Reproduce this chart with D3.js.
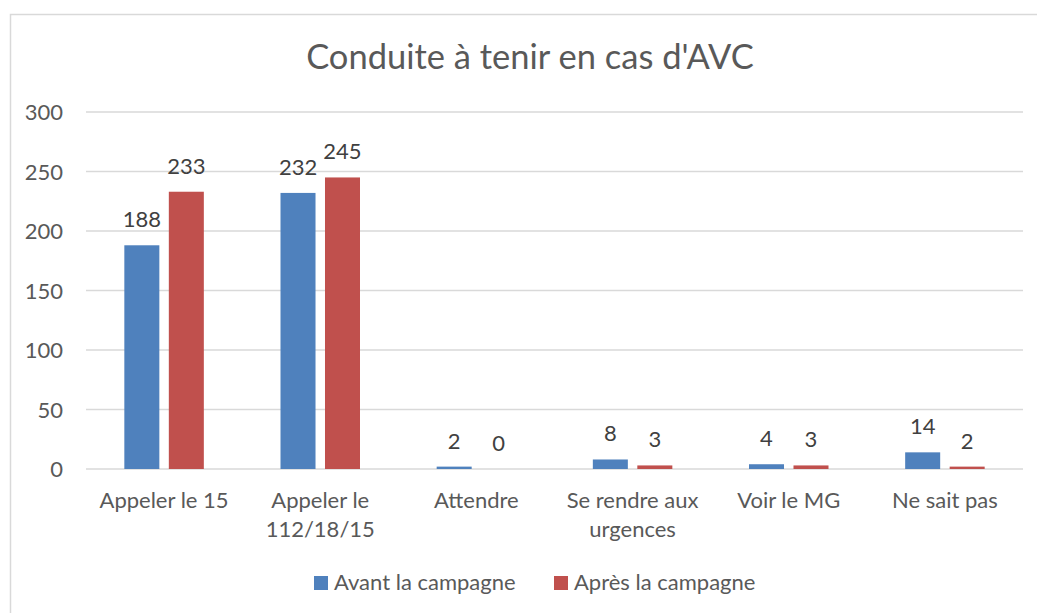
<!DOCTYPE html>
<html>
<head>
<meta charset="utf-8">
<script src="https://cdn.jsdelivr.net/npm/d3@7"></script>
<style>
  body { margin: 0; background: #fff; }
  svg { display: block; font-family: Lato, "Open Sans", sans-serif; }
</style>
</head>
<body>
<svg id="canvas" width="1037" height="613"></svg>
<script>
let categories = ['Appeler le 15', 'Appeler le|112/18/15', 'Attendre', 'Se rendre aux|urgences', 'Voir le MG', 'Ne sait pas'];
let seriesNames = ['Avant la campagne', 'Après la campagne'];
let avant = [188, 232, 2, 8, 4, 14];
let apres = [233, 245, 0, 3, 3, 2];
let yTicks = [0, 50, 100, 150, 200, 250, 300];
let colors = ['#4f81bd', '#c0504d'];

let svg = d3.select('#canvas');
let textColor = '#595959';
let fs = 22;

// chart frame
svg.append('rect')
  .attr('x', 10.5).attr('y', 14.5)
  .attr('width', 1060).attr('height', 640)
  .attr('fill', 'none')
  .attr('stroke', '#d9d9d9')
  .attr('stroke-width', 1.5);

let x0 = d3.scaleBand().domain(categories).range([86, 1023]).padding(0);
let x1 = d3.scaleBand().domain(seriesNames).range([0, 79.5]).paddingInner(0.213).paddingOuter(0);
let y = d3.scaleLinear().domain([0, 300]).range([469, 112]);

// gridlines
svg.append('g')
  .selectAll('line')
  .data(yTicks)
  .enter()
  .append('line')
  .attr('x1', 86).attr('x2', 1023)
  .attr('y1', d => y(d)).attr('y2', d => y(d))
  .attr('stroke', '#d9d9d9')
  .attr('stroke-width', 1.5);

// y axis labels
svg.append('g')
  .selectAll('text')
  .data(yTicks)
  .enter()
  .append('text')
  .attr('x', 63)
  .attr('y', d => y(d) + 8)
  .attr('text-anchor', 'end')
  .attr('font-size', fs)
  .attr('fill', textColor)
  .text(d => d);

let rows = categories.map((c, i) => ({cat: c, values: [avant[i], apres[i]]}));

let group = svg.selectAll('.grp')
  .data(rows)
  .enter()
  .append('g')
  .attr('class', 'grp')
  .attr('transform', d => 'translate(' + (x0(d.cat) + x0.bandwidth() / 2 - 39.75) + ',0)');

group.selectAll('rect')
  .data(d => d.values.map((v, j) => ({name: seriesNames[j], value: v, j: j})))
  .enter()
  .append('rect')
  .attr('x', d => x1(d.name))
  .attr('y', d => y(d.value))
  .attr('width', x1.bandwidth())
  .attr('height', d => y(0) - y(d.value))
  .attr('fill', d => colors[d.j]);

group.selectAll('.lbl')
  .data(d => d.values.map((v, j) => ({name: seriesNames[j], value: v, j: j})))
  .enter()
  .append('text')
  .attr('class', 'lbl')
  .attr('x', d => x1(d.name) + x1.bandwidth() / 2)
  .attr('y', d => y(d.value) - 18)
  .attr('text-anchor', 'middle')
  .attr('font-size', fs)
  .attr('fill', '#404040')
  .text(d => d.value);

// category labels
let catText = svg.append('g')
  .selectAll('text')
  .data(categories)
  .enter()
  .append('text')
  .attr('text-anchor', 'middle')
  .attr('font-size', fs)
  .attr('fill', textColor);

catText.selectAll('tspan')
  .data(d => d.split('|').map(s => ({cat: d, line: s})))
  .enter()
  .append('tspan')
  .attr('x', d => x0(d.cat) + x0.bandwidth() / 2)
  .attr('y', (d, i) => 508 + i * 29)
  .text(d => d.line);

// title
svg.append('text')
  .attr('x', 530)
  .attr('y', 69)
  .attr('text-anchor', 'middle')
  .attr('font-size', 34.5)
  .attr('fill', textColor)
  .text("Conduite à tenir en cas d'AVC");

// legend
let legendX = [314, 554];
let legend = svg.append('g')
  .selectAll('g')
  .data(seriesNames)
  .enter()
  .append('g')
  .attr('transform', (d, i) => 'translate(' + legendX[i] + ',576)');

legend.append('rect')
  .attr('width', 14).attr('height', 14)
  .attr('fill', (d, i) => colors[i]);

legend.append('text')
  .attr('x', 20)
  .attr('y', 14)
  .attr('font-size', fs)
  .attr('fill', textColor)
  .text(d => d);
</script>
</body>
</html>
